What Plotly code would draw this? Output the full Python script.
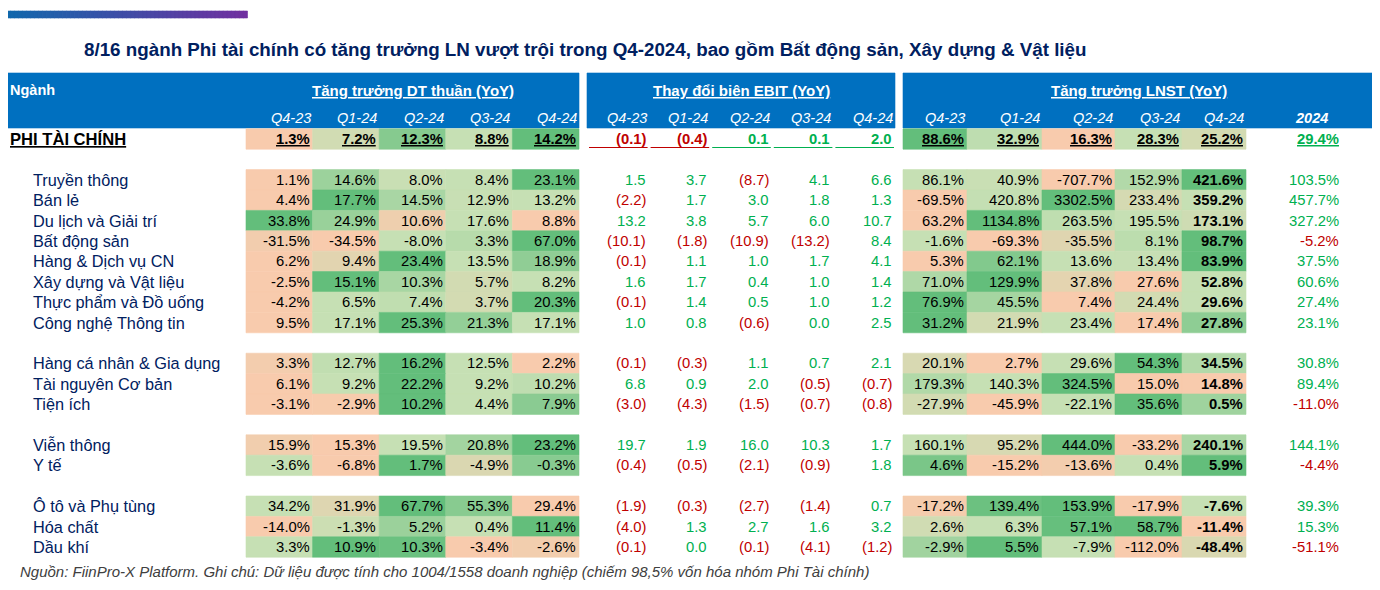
import plotly.graph_objects as go
import numpy as np

# ---- data ----
quarters = ["Q4-23", "Q1-24", "Q2-24", "Q3-24", "Q4-24"]
year_label = "2024"

total_name = "PHI TÀI CHÍNH"
total_dt = [1.3, 7.2, 12.3, 8.8, 14.2]
total_ebit = [-0.1, -0.4, 0.1, 0.1, 2.0]
total_lnst = [88.6, 32.9, 16.3, 28.3, 25.2]
total_lnst_2024 = 29.4

sectors = [
    "Truyền thông", "Bán lẻ", "Du lịch và Giải trí", "Bất động sản",
    "Hàng & Dịch vụ CN", "Xây dựng và Vật liệu", "Thực phẩm và Đồ uống",
    "Công nghệ Thông tin",
    "Hàng cá nhân & Gia dụng", "Tài nguyên Cơ bản", "Tiện ích",
    "Viễn thông", "Y tế",
    "Ô tô và Phụ tùng", "Hóa chất", "Dầu khí",
]
group_sizes = [8, 3, 2, 3]

dt_growth = [
    [1.1, 14.6, 8.0, 8.4, 23.1],
    [4.4, 17.7, 14.5, 12.9, 13.2],
    [33.8, 24.9, 10.6, 17.6, 8.8],
    [-31.5, -34.5, -8.0, 3.3, 67.0],
    [6.2, 9.4, 23.4, 13.5, 18.9],
    [-2.5, 15.1, 10.3, 5.7, 8.2],
    [-4.2, 6.5, 7.4, 3.7, 20.3],
    [9.5, 17.1, 25.3, 21.3, 17.1],
    [3.3, 12.7, 16.2, 12.5, 2.2],
    [6.1, 9.2, 22.2, 9.2, 10.2],
    [-3.1, -2.9, 10.2, 4.4, 7.9],
    [15.9, 15.3, 19.5, 20.8, 23.2],
    [-3.6, -6.8, 1.7, -4.9, -0.3],
    [34.2, 31.9, 67.7, 55.3, 29.4],
    [-14.0, -1.3, 5.2, 0.4, 11.4],
    [3.3, 10.9, 10.3, -3.4, -2.6],
]

ebit_change = [
    [1.5, 3.7, -8.7, 4.1, 6.6],
    [-2.2, 1.7, 3.0, 1.8, 1.3],
    [13.2, 3.8, 5.7, 6.0, 10.7],
    [-10.1, -1.8, -10.9, -13.2, 8.4],
    [-0.1, 1.1, 1.0, 1.7, 4.1],
    [1.6, 1.7, 0.4, 1.0, 1.4],
    [-0.1, 1.4, 0.5, 1.0, 1.2],
    [1.0, 0.8, -0.6, 0.0, 2.5],
    [-0.1, -0.3, 1.1, 0.7, 2.1],
    [6.8, 0.9, 2.0, -0.5, -0.7],
    [-3.0, -4.3, -1.5, -0.7, -0.8],
    [19.7, 1.9, 16.0, 10.3, 1.7],
    [-0.4, -0.5, -2.1, -0.9, 1.8],
    [-1.9, -0.3, -2.7, -1.4, 0.7],
    [-4.0, 1.3, 2.7, 1.6, 3.2],
    [-0.1, 0.0, -0.1, -4.1, -1.2],
]

lnst_growth = [
    [86.1, 40.9, -707.7, 152.9, 421.6],
    [-69.5, 420.8, 3302.5, 233.4, 359.2],
    [63.2, 1134.8, 263.5, 195.5, 173.1],
    [-1.6, -69.3, -35.5, 8.1, 98.7],
    [5.3, 62.1, 13.6, 13.4, 83.9],
    [71.0, 129.9, 37.8, 27.6, 52.8],
    [76.9, 45.5, 7.4, 24.4, 29.6],
    [31.2, 21.9, 23.4, 17.4, 27.8],
    [20.1, 2.7, 29.6, 54.3, 34.5],
    [179.3, 140.3, 324.5, 15.0, 14.8],
    [-27.9, -45.9, -22.1, 35.6, 0.5],
    [160.1, 95.2, 444.0, -33.2, 240.1],
    [4.6, -15.2, -13.6, 0.4, 5.9],
    [-17.2, 139.4, 153.9, -17.9, -7.6],
    [2.6, 6.3, 57.1, 58.7, -11.4],
    [-2.9, 5.5, -7.9, -112.0, -48.4],
]

lnst_2024 = [103.5, 457.7, 327.2, -5.2, 37.5, 60.6, 27.4, 23.1,
             30.8, 89.4, -11.0, 144.1, -4.4, 39.3, 15.3, -51.1]

title = ("8/16 ngành Phi tài chính có tăng trưởng LN vượt trội trong Q4-2024, "
         "bao gồm Bất động sản, Xây dựng & Vật liệu")
group_titles = ["Tăng trưởng DT thuần (YoY)", "Thay đổi biên EBIT (YoY)",
                "Tăng trưởng LNST (YoY)"]
source_note = ("Nguồn: FiinPro-X Platform. Ghi chú: Dữ liệu được tính cho 1004/1558 "
               "doanh nghiệp (chiếm 98,5% vốn hóa nhóm Phi Tài chính)")

# ---- layout / style ----
FONT = "Liberation Sans, Arial, sans-serif"
NAVY = "#002060"
BLUE = "#0070C0"
GREEN_TXT = "#00B050"
RED_TXT = "#C00000"
SALMON = (248, 203, 173)
LIGHT = (198, 224, 180)
DARK = (99, 190, 123)

DT_EDGES = [246, 312.6, 379.2, 445.8, 512.4, 579]
EBIT_EDGES = [587, 648.6, 710.2, 771.8, 833.4, 895]
LNST_EDGES = [903, 967, 1042, 1115, 1182, 1246]
Y2024_RIGHT = 1341
ROW_Y0 = 139
PITCH = 20.4
NUM_SIZE = 14.8
LABEL_SIZE = 16.3
HEAD_SIZE = 15
PAGE_PAD = 8  # browser body margin


def mix(c1, c2, t):
    t = min(max(t, 0), 1)
    return "rgb(%d,%d,%d)" % tuple(round(a + (b - a) * t) for a, b in zip(c1, c2))


def row_colors(vals):
    lo, mid, hi = min(vals), float(np.median(vals)), max(vals)
    out = []
    for v in vals:
        if v <= mid:
            out.append(mix(SALMON, LIGHT, (v - lo) / (mid - lo) if mid > lo else 1))
        else:
            out.append(mix(LIGHT, DARK, (v - mid) / (hi - mid) if hi > mid else 1))
    return out


def pct(v):
    return f"{v:.1f}%"


def ebit_fmt(v):
    return f"({abs(v):.1f})" if v < 0 else f"{v:.1f}"


# row slots (blank row between groups)
slots = []
s = 2
for g in group_sizes:
    slots += list(range(s, s + g))
    s += g + 1

fig = go.Figure()
shapes = []
annotations = []


def text(x, y, t, size=NUM_SIZE, color="black", anchor="right", under=False, **kw):
    font = dict(family=FONT, size=size, color=color)
    if under:
        font["lineposition"] = "under"
    annotations.append(dict(x=x, y=y, xref="x", yref="y", text=t, showarrow=False,
                            xanchor=anchor, yanchor="middle", font=font, **kw))


def rect(x0, x1, y0, y1, color):
    shapes.append(dict(type="rect", xref="x", yref="y", x0=x0, x1=x1, y0=y0, y1=y1,
                       fillcolor=color, line=dict(color=color, width=0.6), layer="below"))


# gradient accent bar
n_seg = 60
for i in range(n_seg):
    x0 = 6 + (247 - 6) * i / n_seg
    x1 = 6 + (247 - 6) * (i + 1) / n_seg + 0.5
    rect(x0, x1, 11, 18, mix((16, 104, 172), (112, 48, 160), i / (n_seg - 1)))

text(82, 49, "<b>" + title + "</b>", size=18.8, color=NAVY, anchor="left")

# header bands
rect(8, 579, 73, 128, BLUE)
rect(587, 895, 73, 128, BLUE)
rect(903, 1375, 73, 128, BLUE)
text(8, 90, "<b>Ngành</b>", size=14.5, color="white", anchor="left")
group_centers = [(DT_EDGES[0] + DT_EDGES[-1]) / 2, (EBIT_EDGES[0] + EBIT_EDGES[-1]) / 2,
                 (903 + 1375) / 2]
for c, t in zip(group_centers, group_titles):
    text(c, 90, "<b>" + t + "</b>", size=HEAD_SIZE, color="white", anchor="center", under=True)
for edges in (DT_EDGES, EBIT_EDGES, LNST_EDGES):
    for j, q in enumerate(quarters):
        text(edges[j + 1], 118, "<i>" + q + "</i>", size=14.5, color="white")
text(1311, 118, "<b><i>" + year_label + "</i></b>", size=14.5, color="white", anchor="center")


def draw_row(y, dt, ebit, lnst, l24, is_total=False):
    h = PITCH / 2
    for edges, vals in ((DT_EDGES, dt), (LNST_EDGES, lnst)):
        cols = row_colors(vals)
        for j, v in enumerate(vals):
            rect(edges[j], edges[j + 1], y - h, y + h, cols[j])
    for j, v in enumerate(dt):
        t = pct(v)
        if is_total:
            t = "<b>" + t + "</b>"
        text(DT_EDGES[j + 1] - 1, y, t, under=is_total)
    for j, v in enumerate(lnst):
        t = pct(v)
        if is_total or j == 4:
            t = "<b>" + t + "</b>"
        text(LNST_EDGES[j + 1] - 1, y, t, under=is_total)
    for j, v in enumerate(ebit):
        col = RED_TXT if v < 0 else GREEN_TXT
        t = ebit_fmt(v)
        if is_total:
            t = "<b>" + t + "</b>"
            shapes.append(dict(type="line", xref="x", yref="y",
                               x0=EBIT_EDGES[j] + 2, x1=EBIT_EDGES[j + 1] - 1,
                               y0=y + 8.5, y1=y + 8.5, line=dict(color=col, width=1.2)))
        text(EBIT_EDGES[j + 1] - 1, y, t, color=col)
    col = RED_TXT if l24 < 0 else GREEN_TXT
    t = pct(l24)
    if is_total:
        t = "<b>" + t + "</b>"
    text(Y2024_RIGHT, y, t, color=col, under=is_total)


y_total = ROW_Y0
text(8, y_total, "<b>" + total_name + "</b>", size=16.6, color="black",
     anchor="left", under=True)
draw_row(y_total, total_dt, total_ebit, total_lnst, total_lnst_2024, is_total=True)

for i, name in enumerate(sectors):
    y = ROW_Y0 + PITCH * slots[i]
    text(31, y, name, size=LABEL_SIZE, color=NAVY, anchor="left")
    draw_row(y, dt_growth[i], ebit_change[i], lnst_growth[i], lnst_2024[i])

text(18, 571, "<i>" + source_note + "</i>", size=15, color="#404040", anchor="left")

# invisible trace to anchor the axes
fig.add_trace(go.Scatter(x=[PAGE_PAD, 1380], y=[PAGE_PAD, 590], mode="markers",
                         marker=dict(opacity=0), hoverinfo="skip", showlegend=False))

# the page body keeps an 8px margin, so the figure is offset by that much
fig.update_layout(
    width=1380 - PAGE_PAD, height=590 - PAGE_PAD,
    margin=dict(l=0, r=0, t=0, b=0),
    paper_bgcolor="white", plot_bgcolor="white",
    shapes=shapes, annotations=annotations,
    xaxis=dict(range=[PAGE_PAD, 1380], visible=False, fixedrange=True),
    yaxis=dict(range=[590, PAGE_PAD], visible=False, fixedrange=True),
    showlegend=False,
)

fig.write_html("out.html")
